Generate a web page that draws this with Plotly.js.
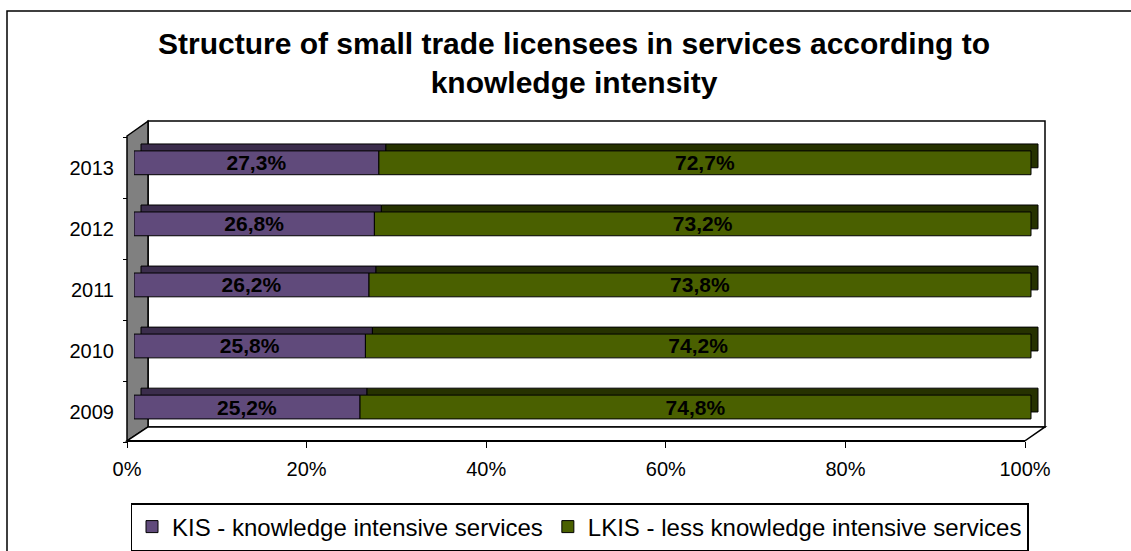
<!DOCTYPE html>
<html>
<head>
<meta charset="utf-8">
<script src="https://cdn.plot.ly/plotly-3.0.1.min.js"></script>
<style>html,body{margin:0;padding:0;background:#fff;}#chart{width:1131px;height:551px;}</style>
</head>
<body>
<div id="chart"></div>
<script>
// ---- data ----
const years = ['2009', '2010', '2011', '2012', '2013'];
const kis = [25.2, 25.8, 26.2, 26.8, 27.3];
const lkis = [74.8, 74.2, 73.8, 73.2, 72.7];
const xTicks = [0, 20, 40, 60, 80, 100];
const xTickText = ['0%', '20%', '40%', '60%', '80%', '100%'];
const seriesNames = ['KIS - knowledge intensive services', 'LKIS - less knowledge intensive services'];

// ---- helpers (layout only) ----
const W = 1131, H = 551;
const px = p => p / W;
const py = p => 1 - p / H;
const P = (x, y) => px(x).toFixed(5) + ',' + py(y).toFixed(5);
const fmt = v => v.toFixed(1).replace('.', ',') + '%';

const depthX = 7 * 100 / 897;   // 3D depth shift of bars, in axis units
const barW = 0.39, barOff = -0.195, backOff = -0.195 + 7 / 61.5;

const colKis = '#604A7B', colKisDark = '#3B2D4C';
const colLkis = '#4A6000', colLkisDark = '#263200';
const font = 'Arial, "Liberation Sans", sans-serif';

const traces = [
  { type: 'bar', orientation: 'h', y: years, x: kis, base: kis.map(() => depthX),
    width: barW, offset: backOff, marker: { color: colKisDark, line: { color: '#000', width: 1 } },
    showlegend: false, hoverinfo: 'skip' },
  { type: 'bar', orientation: 'h', y: years, x: lkis, base: kis.map(v => v + depthX),
    width: barW, offset: backOff, marker: { color: colLkisDark, line: { color: '#000', width: 1 } },
    showlegend: false, hoverinfo: 'skip' },
  { type: 'bar', orientation: 'h', name: seriesNames[0], y: years, x: kis, base: kis.map(() => 0),
    width: barW, offset: barOff, marker: { color: colKis, line: { color: '#000', width: 1 } },
    text: kis.map(fmt), textposition: 'inside', insidetextanchor: 'middle', constraintext: 'none',
    textangle: 0, textfont: { family: font, size: 21, weight: 'bold', color: '#000' } },
  { type: 'bar', orientation: 'h', name: seriesNames[1], y: years, x: lkis, base: kis,
    width: barW, offset: barOff, marker: { color: colLkis, line: { color: '#000', width: 1 } },
    text: lkis.map(fmt), textposition: 'inside', insidetextanchor: 'middle', constraintext: 'none',
    textangle: 0, textfont: { family: font, size: 21, weight: 'bold', color: '#000' } },
  { type: 'scatter', mode: 'markers', x: kis, y: years, xaxis: 'x2', yaxis: 'y2',
    marker: { opacity: 0 }, hoverinfo: 'skip', showlegend: false }
];

const shapes = [
  // outer chart border
  { type: 'rect', xref: 'paper', yref: 'paper', x0: px(7), y0: py(11), x1: 1.05, y1: -0.05,
    line: { color: '#000', width: 1.5 }, fillcolor: 'rgba(0,0,0,0)', layer: 'below' },
  // back wall
  { type: 'rect', xref: 'paper', yref: 'paper', x0: px(148), y0: py(122), x1: px(1045), y1: py(430),
    line: { color: '#000', width: 1.5 }, fillcolor: '#fff', layer: 'below' },
  // left wall
  { type: 'path', xref: 'paper', yref: 'paper',
    path: 'M' + P(127, 137) + 'L' + P(148, 122) + 'L' + P(148, 430) + 'L' + P(127, 444) + 'Z',
    line: { color: '#000', width: 1.5 }, fillcolor: '#808080', layer: 'below' },
  // floor
  { type: 'path', xref: 'paper', yref: 'paper',
    path: 'M' + P(127, 444) + 'L' + P(148, 430) + 'L' + P(1045, 430) + 'L' + P(1025, 444) + 'Z',
    line: { color: '#000', width: 1.5 }, fillcolor: '#fff', layer: 'below' }
];

const layout = {
  width: W, height: H,
  margin: { l: 0, r: 0, t: 0, b: 0, pad: 0 },
  paper_bgcolor: '#fff', plot_bgcolor: 'rgba(0,0,0,0)',
  barmode: 'overlay',
  font: { family: font, color: '#000' },
  title: {
    text: 'Structure of small trade licensees in services according to<br>knowledge intensity',
    font: { family: font, size: 30, weight: 'bold', color: '#000' },
    x: px(574), xanchor: 'center', xref: 'paper', y: py(54), yanchor: 'top', yref: 'container'
  },
  xaxis: { domain: [px(134), px(1045)], range: [0, 100 * 911 / 897], showticklabels: false,
    ticks: '', showline: false, showgrid: false, zeroline: false, fixedrange: true },
  yaxis: { domain: [py(444), py(122)], range: [-0.553, 4.683], type: 'category',
    showticklabels: false, ticks: '', showline: false, showgrid: false, zeroline: false },
  xaxis2: { domain: [px(127), px(1025)], range: [0, 100], anchor: 'free', position: py(444),
    tickmode: 'array', tickvals: xTicks, ticktext: xTickText, ticks: 'outside', ticklen: 6,
    tickcolor: '#000', tickwidth: 1, ticklabelstandoff: 4,
    showline: true, linecolor: '#000', linewidth: 1.5, showgrid: false, zeroline: false,
    tickfont: { family: font, size: 20, color: '#000' } },
  yaxis2: { domain: [py(449), py(127)], range: [-0.553, 4.683], type: 'category',
    anchor: 'free', position: px(127), ticks: 'outside', ticklen: 4, tickson: 'boundaries',
    ticklabelstandoff: 13,
    tickcolor: '#000', showline: false, showgrid: false, zeroline: false,
    tickfont: { family: font, size: 20, color: '#000' } },
  legend: {
    orientation: 'h', x: px(579.5), xanchor: 'center', y: py(507), yanchor: 'top',
    bordercolor: '#000', borderwidth: 1.5, bgcolor: '#fff',
    font: { family: font, size: 24, color: '#000' }, traceorder: 'normal'
  },
  shapes: shapes
};

Plotly.newPlot('chart', traces, layout, { displayModeBar: false, staticPlot: true });
</script>
</body>
</html>
